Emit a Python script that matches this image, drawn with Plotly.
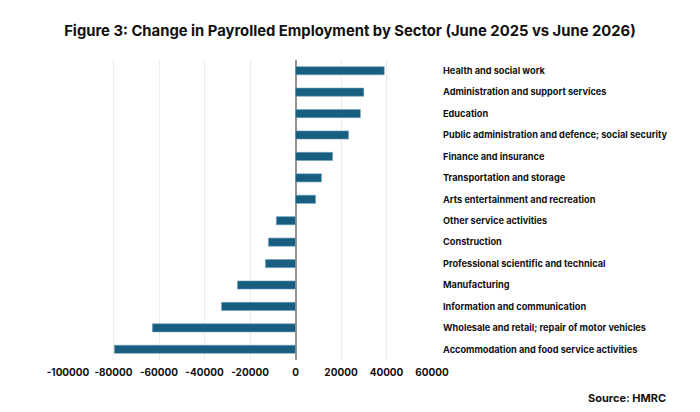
import plotly.graph_objects as go

sectors = [
    "Health and social work",
    "Administration and support services",
    "Education",
    "Public administration and defence; social security",
    "Finance and insurance",
    "Transportation and storage",
    "Arts entertainment and recreation",
    "Other service activities",
    "Construction",
    "Professional scientific and technical",
    "Manufacturing",
    "Information and communication",
    "Wholesale and retail; repair of motor vehicles",
    "Accommodation and food service activities",
]
change = [39000, 30000, 28500, 23300, 16300, 11400, 8800,
          -8400, -11900, -13200, -25500, -32500, -62900, -79600]
x_ticks = [-100000, -80000, -60000, -40000, -20000, 0, 20000, 40000, 60000]

fig = go.Figure(go.Bar(
    x=change, y=sectors, orientation="h",
    marker=dict(color="#175e80", line=dict(color="#6f9fb8", width=0.6)),
    width=0.38,
))

fig.update_layout(
    width=700, height=412,
    margin=dict(l=68, r=268, t=60, b=52),
    paper_bgcolor="white", plot_bgcolor="white",
    font=dict(family="Inter, Arial, sans-serif", color="#111111"),
    showlegend=False,
    title=dict(text="<b>Figure 3: Change in Payrolled Employment by Sector (June 2025 vs June 2026)</b>",
               x=0.5, xanchor="center", y=0.925, yanchor="middle",
               font=dict(size=14.8, color="#111111")),
    xaxis=dict(range=[-100000, 60000], tickvals=x_ticks,
               ticktext=[f"<b>{v}</b>" for v in x_ticks], tickangle=0,
               ticklabelstandoff=5,
               showgrid=True, gridcolor="#ececec", gridwidth=1,
               zeroline=True, zerolinecolor="#9a918a", zerolinewidth=2,
               tickfont=dict(size=10, color="#111111"), ticks="", showline=False),
    yaxis=dict(categoryorder="array", categoryarray=sectors, autorange="reversed",
               side="right", ticklabelstandoff=10,
               tickvals=sectors, ticktext=[f"<b>{s}</b>" for s in sectors],
               tickfont=dict(size=9.2, color="#111111"), showgrid=False, ticks="", showline=False),
    annotations=[dict(text="<b>Source: HMRC</b>", xref="paper", yref="paper",
                      x=(668 - 68) / (700 - 68 - 268), y=-(398 - 360) / 300,
                      xanchor="right", yanchor="middle",
                      showarrow=False, font=dict(size=11, color="#111111"))],
)

fig.write_html("out.html")
